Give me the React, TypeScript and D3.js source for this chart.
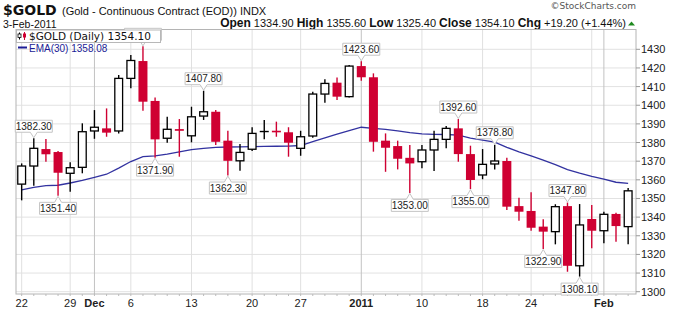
import React from "react";
import * as d3 from "d3";

const dates = [
  "2010-11-22","2010-11-23","2010-11-24","2010-11-26","2010-11-29","2010-11-30",
  "2010-12-01","2010-12-02","2010-12-03","2010-12-06","2010-12-07","2010-12-08","2010-12-09","2010-12-10",
  "2010-12-13","2010-12-14","2010-12-15","2010-12-16","2010-12-17","2010-12-20","2010-12-21","2010-12-22","2010-12-23",
  "2010-12-27","2010-12-28","2010-12-29","2010-12-30","2010-12-31",
  "2011-01-03","2011-01-04","2011-01-05","2011-01-06","2011-01-07","2011-01-10","2011-01-11","2011-01-12","2011-01-13","2011-01-14",
  "2011-01-18","2011-01-19","2011-01-20","2011-01-21","2011-01-24","2011-01-25","2011-01-26","2011-01-27","2011-01-28",
  "2011-01-31","2011-02-01","2011-02-02","2011-02-03",
];
const opens = [
  1357.7,1367.4,1376.5,1374.9,1363.5,1366.7,
  1386.2,1387.6,1386.2,1414.4,1423.7,1402.3,1382.3,1387.2,
  1383.6,1394.2,1396.5,1381.0,1370.2,1376.4,1385.7,1385.9,1385.5,
  1376.9,1383.5,1406.0,1412.1,1404.6,
  1421.0,1415.0,1381.0,1378.1,1371.8,1369.7,1376.0,1381.7,1387.6,1373.8,
  1362.6,1368.5,1370.1,1345.9,1343.3,1334.9,1332.2,1345.9,1313.9,
  1339.0,1332.7,1341.7,1334.9,
];
const highs = [
  1368.8,1382.3,1381.9,1375.4,1369.4,1390.3,
  1397.4,1398.3,1416.2,1426.9,1431.6,1404.2,1393.8,1392.6,
  1399.2,1407.8,1397.4,1386.3,1379.2,1388.2,1392.1,1391.2,1388.2,
  1386.3,1407.2,1413.9,1414.9,1421.6,
  1423.6,1417.1,1384.9,1381.0,1378.7,1378.7,1386.3,1388.8,1392.6,1378.3,
  1376.5,1378.8,1371.9,1350.4,1353.3,1338.8,1346.9,1347.8,1347.0,
  1346.5,1342.9,1342.4,1355.6,
];
const lows = [
  1349.0,1356.8,1369.7,1351.4,1353.6,1363.5,
  1382.0,1383.1,1384.9,1409.1,1397.1,1371.9,1379.9,1372.4,
  1380.1,1392.1,1378.7,1362.3,1364.9,1375.5,1381.7,1383.1,1372.4,
  1372.9,1382.6,1401.3,1402.8,1404.2,
  1413.1,1375.1,1364.3,1365.6,1353.0,1366.2,1364.7,1376.9,1369.7,1355.0,
  1360.3,1365.6,1343.8,1338.1,1332.7,1322.9,1325.4,1310.7,1308.1,
  1323.3,1326.0,1326.8,1325.4,
];
const closes = [
  1367.4,1376.9,1373.7,1363.8,1366.5,1385.8,
  1388.2,1385.3,1414.4,1424.0,1401.9,1381.7,1387.1,1386.3,
  1393.8,1396.5,1380.4,1370.2,1374.7,1384.9,1385.9,1385.7,1379.9,
  1383.1,1406.0,1411.7,1404.6,1421.0,
  1415.0,1380.4,1377.2,1371.3,1368.8,1376.0,1381.7,1387.6,1373.8,1359.9,
  1368.3,1370.1,1345.6,1342.9,1334.3,1332.2,1345.6,1313.9,1335.8,
  1332.7,1341.5,1335.2,1354.1,
];
const ema30 = [
  1354.6,1355.9,1356.9,1357.1,1358.3,1359.7,
  1361.3,1363.0,1366.3,1369.8,1372.4,1372.8,1373.8,1375.0,
  1376.2,1376.9,1377.4,1377.6,1377.7,1377.8,1377.9,1378.0,1378.1,
  1378.4,1380.5,1382.5,1384.5,1386.4,
  1388.2,1387.6,1387.1,1386.2,1385.3,1384.6,1384.4,1384.3,1384.0,1382.4,
  1381.3,1380.2,1377.4,1375.0,1372.8,1370.6,1368.1,1365.5,1363.6,
  1361.9,1360.4,1358.7,1358.08,
];

const yTicks = [1300,1310,1320,1330,1340,1350,1360,1370,1380,1390,1400,1410,1420,1430];
const xTickDates = ["2010-11-22","2010-11-29","2010-12-01","2010-12-06","2010-12-13","2010-12-20","2010-12-27","2011-01-03","2011-01-10","2011-01-18","2011-01-24","2011-02-01"];
const xTickTexts = ["22","29","Dec","6","13","20","27","2011","10","18","24","Feb"];
const xTickBold = [false,false,true,false,false,false,false,true,false,false,false,true];
const weekGridDates = ["2010-11-22","2010-11-29","2010-12-06","2010-12-13","2010-12-20","2010-12-27","2011-01-10","2011-01-18","2011-01-24","2011-01-31"];
const monthGridDates = ["2010-12-01","2011-01-03","2011-02-01"];
const highLabelIdx = [1,15,28,36,39,45];
const hiddenHighIdx = [10];
const lowLabelIdx = [3,11,17,32,37,43,46];

const FONT = "'Liberation Sans', Arial, sans-serif";
const VFONT = "'DejaVu Sans', Verdana, sans-serif";
const RED = "#cf0032";
const EMA_COLOR = "#1c1c96";

export default function App() {
  const left = 16, right = 636, top = 29.5, bottom = 294;
  const x = d3.scaleBand<string>().domain(dates).range([15.6, 634.2]);
  const cx = (d: string) => (x(d) as number) + x.bandwidth() / 2;
  const y = d3.scaleLinear().domain([1300, 1430]).range([291.7, 49.3]);
  const emaLine = d3.line<number>().x((_, i) => cx(dates[i])).y((v) => y(v));

  const labelBox = (i: number, kind: "high" | "low", showText = true) => {
    const v = kind === "high" ? highs[i] : lows[i];
    const text = v.toFixed(2);
    const px = cx(dates[i]);
    const tipY = y(v) + (kind === "high" ? -0.5 : 0.5);
    const w = 37, h = 12, hw = 3.5;
    const l = px - w / 2, r = px + w / 2;
    let path: string, ty: number;
    if (kind === "high") {
      const b = y(v) - 6, t = b - h;
      path = `M${l},${t}H${r}V${b}H${px + hw}L${px},${tipY}L${px - hw},${b}H${l}Z`;
      ty = t + 9.5;
    } else {
      const t = y(v) + 6.5, b = t + h;
      path = `M${l},${t}H${px - hw}L${px},${tipY}L${px + hw},${t}H${r}V${b}H${l}Z`;
      ty = t + 9.5;
    }
    return (
      <g key={`${kind}-${i}`}>
        <path d={path} fill="#fff" stroke="#c4c4c4" strokeWidth={1} />
        {showText && (
          <text x={px} y={ty} textAnchor="middle" fontSize={10} fontFamily={FONT} fill="#222">{text}</text>
        )}
      </g>
    );
  };

  return (
    <svg width={680} height={312} style={{ position: "absolute", left: 0, top: 0, display: "block" }}>
      <rect x={0} y={0} width={680} height={312} fill="#fff" />
      {/* header */}
      <text x={3} y={15} fontFamily={VFONT} fontWeight="bold" fontSize={14} fill="#111">$GOLD</text>
      <text x={62} y={15} fontFamily={FONT} fontSize={11} fill="#111">(Gold - Continuous Contract (EOD)) INDX</text>
      <text x={3} y={27.5} fontFamily={FONT} fontSize={10.5} fill="#111">3-Feb-2011</text>
      <text x={636} y={9} textAnchor="end" fontFamily={VFONT} fontSize={9} fill="#555">©StockCharts.com</text>
      <text x={626} y={26.5} textAnchor="end" fontFamily={FONT} fill="#111">
        <tspan fontWeight="bold" fontSize={12}>Open</tspan>
        <tspan fontSize={11}> 1334.90 </tspan>
        <tspan fontWeight="bold" fontSize={12}>High</tspan>
        <tspan fontSize={11}> 1355.60 </tspan>
        <tspan fontWeight="bold" fontSize={12}>Low</tspan>
        <tspan fontSize={11}> 1325.40 </tspan>
        <tspan fontWeight="bold" fontSize={12}>Close</tspan>
        <tspan fontSize={11}> 1354.10 </tspan>
        <tspan fontWeight="bold" fontSize={12}>Chg</tspan>
        <tspan fontSize={11}> +19.20 (+1.44%)</tspan>
      </text>
      <path d="M628,25.5L631.5,21.5L635,25.5Z" fill="#1f8a1f" />

      {/* grid */}
      {yTicks.map((t) => (
        <line key={`g${t}`} x1={left} x2={right} y1={y(t)} y2={y(t)} stroke="#e2e2e2" strokeWidth={1} />
      ))}
      {weekGridDates.map((d) => (
        <line key={`w${d}`} x1={cx(d)} x2={cx(d)} y1={top} y2={bottom} stroke="#e0e0e0" strokeWidth={1} />
      ))}
      {monthGridDates.map((d) => (
        <line key={`m${d}`} x1={cx(d)} x2={cx(d)} y1={top} y2={bottom} stroke="#c2c2c2" strokeWidth={1} />
      ))}
      <rect x={left} y={top} width={right - left} height={bottom - top} fill="none" stroke="#b4b4b4" strokeWidth={1} />

      {/* right axis */}
      {yTicks.map((t) => (
        <g key={`yt${t}`}>
          <line x1={right} x2={right + 4} y1={y(t)} y2={y(t)} stroke="#999" />
          <text x={641} y={y(t) + 4} fontFamily={FONT} fontSize={11} fill="#222">{t}</text>
        </g>
      ))}
      {/* bottom axis ticks */}
      {dates.map((d) => (
        <line key={`xt${d}`} x1={cx(d)} x2={cx(d)} y1={bottom} y2={bottom + 2} stroke="#bbb" />
      ))}
      {xTickDates.map((d, i) => (
        <text key={`xl${d}`} x={cx(d)} y={307} textAnchor="middle" fontFamily={FONT} fontSize={11}
          fontWeight={xTickBold[i] ? "bold" : "normal"} fill="#222">{xTickTexts[i]}</text>
      ))}

      {/* EMA */}
      <path d={emaLine(ema30) || ""} fill="none" stroke={EMA_COLOR} strokeWidth={1.3} strokeOpacity={0.9} />

      {/* candles */}
      {dates.map((d, i) => {
        const o = opens[i], c = closes[i], h = highs[i], l = lows[i];
        const up = c >= o;
        const px = cx(d);
        const col = up ? "#000" : RED;
        const yt = y(Math.max(o, c)), yb = y(Math.min(o, c));
        const bh = Math.max(yb - yt, 1);
        return (
          <g key={`c${d}`}>
            <line x1={px} x2={px} y1={y(h)} y2={y(l)} stroke={col} strokeWidth={1.4} />
            {up ? (
              bh > 1.5 ? (
                <rect x={px - 3.9} y={yt} width={7.8} height={bh} fill="#fff" stroke="#000" strokeWidth={1.3} />
              ) : (
                <line x1={px - 4.5} x2={px + 4.5} y1={yt} y2={yt} stroke="#000" strokeWidth={1.4} />
              )
            ) : bh > 1.5 ? (
              <rect x={px - 4.5} y={yt} width={9} height={bh} fill={RED} />
            ) : (
              <line x1={px - 4.5} x2={px + 4.5} y1={yt} y2={yt} stroke={RED} strokeWidth={1.6} />
            )}
          </g>
        );
      })}

      {/* annotations */}
      {hiddenHighIdx.map((i) => labelBox(i, "high", false))}
      {highLabelIdx.map((i) => labelBox(i, "high"))}
      {lowLabelIdx.map((i) => labelBox(i, "low"))}

      {/* legend */}
      <rect x={16.5} y={30} width={144} height={12.5} fill="#fff" stroke="#b8b8b8" strokeWidth={1} />
      <g>
        <line x1={19.5} x2={19.5} y1={32.5} y2={39.5} stroke="#000" strokeWidth={1} />
        <rect x={18} y={34} width={3} height={3.5} fill="#fff" stroke="#000" strokeWidth={0.8} />
        <line x1={24.5} x2={24.5} y1={32} y2={40} stroke={RED} strokeWidth={1} />
        <rect x={23} y={33.5} width={3} height={4} fill={RED} />
      </g>
      <text x={29} y={40} fontFamily={VFONT} fontSize={10.5} fill="#111">$GOLD (Daily) 1354.10</text>
      <line x1={18} x2={27} y1={47.5} y2={47.5} stroke={EMA_COLOR} strokeWidth={2} />
      <text x={29} y={51.5} fontFamily={FONT} fontSize={10} fill={EMA_COLOR}>EMA(30) 1358.08</text>
    </svg>
  );
}
